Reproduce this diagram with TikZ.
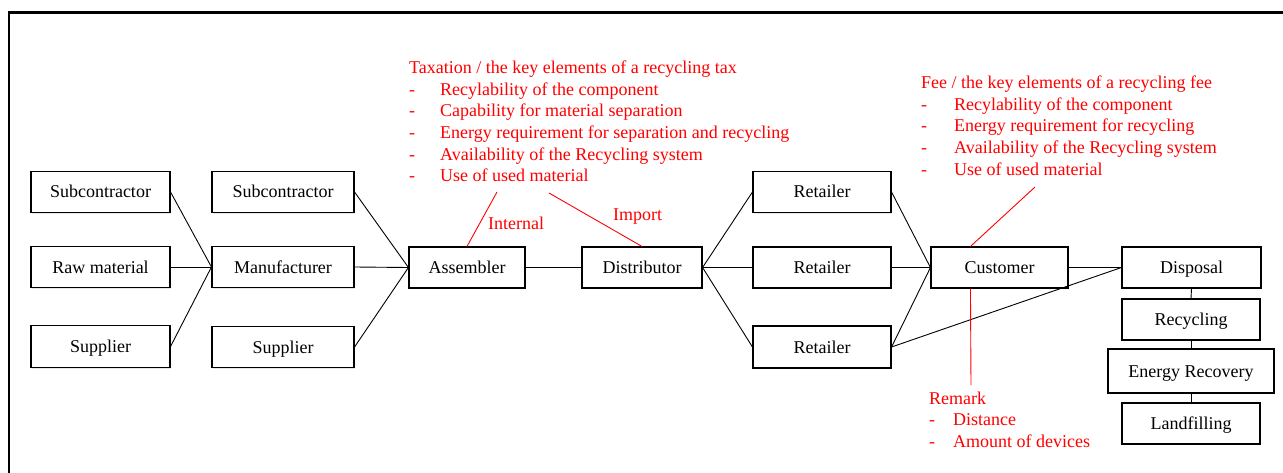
\documentclass[tikz,border=0pt]{standalone}
\usepackage{fontspec}
\setmainfont{Liberation Serif}
\usetikzlibrary{shadows,calc}
\begin{document}
\begin{tikzpicture}[x=1pt,y=-1pt,
  box/.style={draw,line width=1.1pt,fill=white,minimum width=#1,minimum height=41pt,inner sep=0pt,
    font=\fontsize{18}{21}\selectfont,text height=12.6pt,text depth=0.6pt,
    drop shadow={shadow xshift=1.2pt,shadow yshift=-1.4pt,opacity=0.2}},
  box/.default=139pt,
  conn/.style={line width=0.9pt},
  redline/.style={draw=red,line width=0.9pt},
  redtext/.style={text=red,font=\fontsize{18}{21.7}\selectfont,inner sep=0pt,align=left},
  frame/.style={line width=2.6pt}]
\useasboundingbox (0,0) rectangle (1283,473);
\draw[frame] (1283,12.5) -- (9,12.5) -- (9,473);

% boxes
\node[box] (sub1) at (100.5,192) {Subcontractor};
\node[box] (raw)  at (100.5,267) {Raw material};
\node[box,minimum height=42pt] (sup1) at (100.5,346.5) {Supplier};
\node[box=142pt] (sub2) at (283,192) {Subcontractor};
\node[box=142pt] (man)  at (283,267) {Manufacturer};
\node[box=142pt] (sup2) at (283,347) {Supplier};
\node[box=116pt] (asm)  at (467,267.5) {Assembler};
\node[box=120pt] (dist) at (642,267.5) {Distributor};
\node[box=138pt] (ret1) at (822,192) {Retailer};
\node[box=138pt] (ret2) at (822,267.5) {Retailer};
\node[box=138pt,minimum height=42pt] (ret3) at (822,347) {Retailer};
\node[box=137pt] (cust) at (999.5,267.5) {Customer};
\node[box=139pt] (disp) at (1191.5,267.5) {Disposal};
\node[box=138pt] (recy) at (1191,319.5) {Recycling};
\node[box=166pt,minimum height=44pt] (enrec) at (1191,371) {Energy Recovery};
\node[box=138pt] (land) at (1191,423.5) {Landfilling};

% connectors
\draw[conn] (sub1.east) -- (man.west);
\draw[conn] (raw.east) -- (man.west);
\draw[conn] (sup1.east) -- (man.west);
\draw[conn] (sub2.east) -- (asm.west);
\draw[conn] (man.east) -- (asm.west);
\draw[conn] (sup2.east) -- (asm.west);
\draw[conn] (asm.east) -- (dist.west);
\draw[conn] (dist.east) -- (ret1.west);
\draw[conn] (dist.east) -- (ret2.west);
\draw[conn] (dist.east) -- (ret3.west);
\draw[conn] (ret1.east) -- (cust.west);
\draw[conn] (ret2.east) -- (cust.west);
\draw[conn] (ret3.east) -- (cust.west);
\draw[conn] (cust.east) -- (disp.west);
\draw[conn] (ret3.east) -- (disp.west);
\draw[conn] (disp.south) -- (recy.north);
\draw[conn] (recy.south) -- (enrec.north);
\draw[conn] (enrec.south) -- (land.north);

% red annotations
\coordinate (intEnd) at (497,192);
\coordinate (impEnd) at (549,193);
\coordinate (feeEnd) at (1035,187);
\coordinate (custTop) at ($(cust.north west)+(40,0)$);
\coordinate (custBot) at ($(cust.south west)+(40,0)$);
\coordinate (remEnd) at (971,385);
\draw[redline] (asm.north) -- (intEnd);
\draw[redline] (impEnd) -- (dist.north);
\draw[redline] (custTop) -- (feeEnd);
\draw[redline] (custBot) -- (remEnd);

\node[redtext,anchor=base west] (internal) at (488,230) {Internal};
\node[redtext,anchor=base west] (import) at (613,221) {Import};

\node[redtext,anchor=north west] (tax) at (409,60.6) {Taxation / the key elements of a recycling tax\\
\makebox[31pt][l]{-}Recylability of the component\\
\makebox[31pt][l]{-}Capability for material separation\\
\makebox[31pt][l]{-}Energy requirement for separation and recycling\\
\makebox[31pt][l]{-}Availability of the Recycling system\\
\makebox[31pt][l]{-}Use of used material};

\node[redtext,anchor=north west] (fee) at (921,75.6) {Fee / the key elements of a recycling fee\\
\makebox[33pt][l]{-}Recylability of the component\\
\makebox[33pt][l]{-}Energy requirement for recycling\\
\makebox[33pt][l]{-}Availability of the Recycling system\\
\makebox[33pt][l]{-}Use of used material};

\node[redtext,anchor=north west] (remark) at (929,391.6) {Remark\\
\makebox[24pt][l]{-}Distance\\
\makebox[24pt][l]{-}Amount of devices};
\end{tikzpicture}
\end{document}
